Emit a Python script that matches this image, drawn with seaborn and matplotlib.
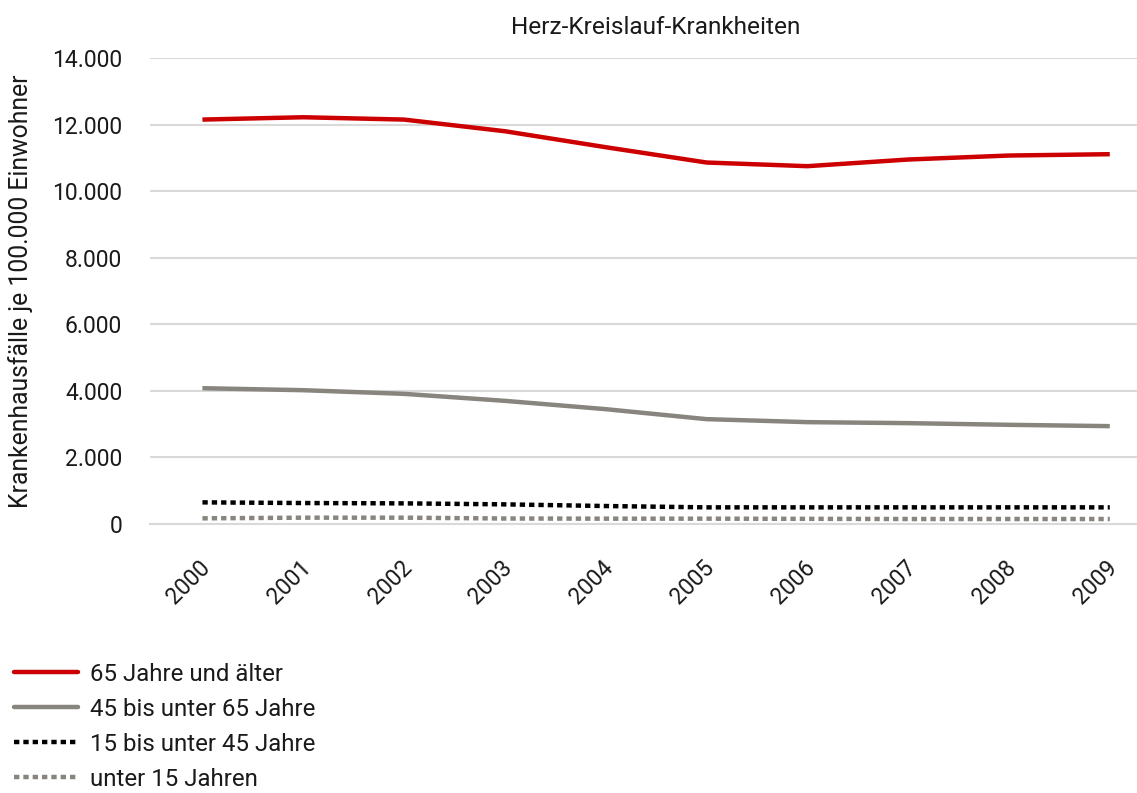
import matplotlib
matplotlib.use("Agg")
import matplotlib.pyplot as plt
import matplotlib.transforms as mtransforms
import seaborn as sns
import pandas as pd
from matplotlib.ticker import FuncFormatter, MultipleLocator
from matplotlib.lines import Line2D

years = ["2000", "2001", "2002", "2003", "2004", "2005", "2006", "2007", "2008", "2009"]
series_names = ["65 Jahre und älter", "45 bis unter 65 Jahre", "15 bis unter 45 Jahre", "unter 15 Jahren"]
s65 = [12150, 12220, 12150, 11800, 11320, 10860, 10750, 10950, 11070, 11110]
s45 = [4080, 4020, 3910, 3700, 3450, 3150, 3060, 3030, 2980, 2940]
s15 = [650, 630, 620, 590, 540, 500, 500, 500, 500, 500]
s0 = [170, 190, 190, 165, 160, 160, 155, 150, 150, 150]
title = "Herz-Kreislauf-Krankheiten"
ylabel = "Krankenhausfälle je 100.000 Einwohner"

colors = {series_names[0]: "#CC0000", series_names[1]: "#87857E",
          series_names[2]: "#000000", series_names[3]: "#87857E"}
dot = (1.2, 0.9)
dashes = {series_names[0]: "", series_names[1]: "", series_names[2]: dot, series_names[3]: dot}

rows = []
for name, vals in zip(series_names, [s65, s45, s15, s0]):
    for i, (y, v) in enumerate(zip(years, vals)):
        rows.append({"idx": i, "Jahr": y, "Wert": v, "Gruppe": name})
df = pd.DataFrame(rows)

sns.set_theme(style="white")
plt.rcParams["font.family"] = ["Roboto", "DejaVu Sans"]

TXT = "#1a1a1a"
FS_TICK = 16.5
FS_TEXT = 17.3

fig = plt.figure(figsize=(11.37, 7.93), dpi=100)
ax = fig.add_axes([150/1137, 1-524/793, 1-150/1137, (524-58)/793])

ax.yaxis.set_major_locator(MultipleLocator(2000))
ax.grid(axis="y", color="#D9D9D9", linewidth=1.5, zorder=0)
ax.set_axisbelow(True)

sns.lineplot(data=df, x="idx", y="Wert", hue="Gruppe", style="Gruppe",
             hue_order=series_names, style_order=series_names,
             palette=colors, dashes=dashes, linewidth=3.2, ax=ax, legend=False,
             zorder=3)
for ln in ax.get_lines():
    ln.set_dash_capstyle("butt")
    ln.set_solid_capstyle("butt")

ax.set_xlim(-0.52, 9.27)
ax.set_ylim(0, 14000)
ax.set_xticks(range(len(years)))
ax.set_xticklabels(years, rotation=45, ha="right", rotation_mode="anchor")
ax.yaxis.set_major_formatter(FuncFormatter(lambda v, p: f"{int(v):,}".replace(",", ".")))
ax.tick_params(axis="both", labelsize=FS_TICK, labelcolor=TXT, length=0)
ax.tick_params(axis="x", pad=23)
ax.tick_params(axis="y", pad=20)
offset = mtransforms.ScaledTranslation(-4/100, 0, fig.dpi_scale_trans)
for lab in ax.get_xticklabels():
    lab.set_transform(lab.get_transform() + offset)
for s in ["top", "right", "left"]:
    ax.spines[s].set_visible(False)
ax.spines["bottom"].set_color("#D9D9D9")
ax.spines["bottom"].set_linewidth(1.5)
ax.set_xlabel("")
ax.set_ylabel(ylabel, fontsize=FS_TEXT + 0.5, color=TXT)
ax.yaxis.set_label_coords(-0.1185, 0.5)

fig.text(656/1137, 1-27/793, title, ha="center", va="center", fontsize=FS_TEXT + 0.3, color=TXT)

handles = [Line2D([0], [0], color=colors[n], linewidth=3.2,
                  linestyle=(0, dot) if dashes[n] else "-", dash_capstyle="butt")
           for n in series_names]
fig.legend(handles, series_names, loc="upper left", bbox_to_anchor=(0.004, 1-653/793),
           frameon=False, fontsize=FS_TEXT, handlelength=2.67, labelspacing=0.5,
           handletextpad=0.5, borderaxespad=0, labelcolor=TXT)

fig.savefig("out.png", dpi=100)
